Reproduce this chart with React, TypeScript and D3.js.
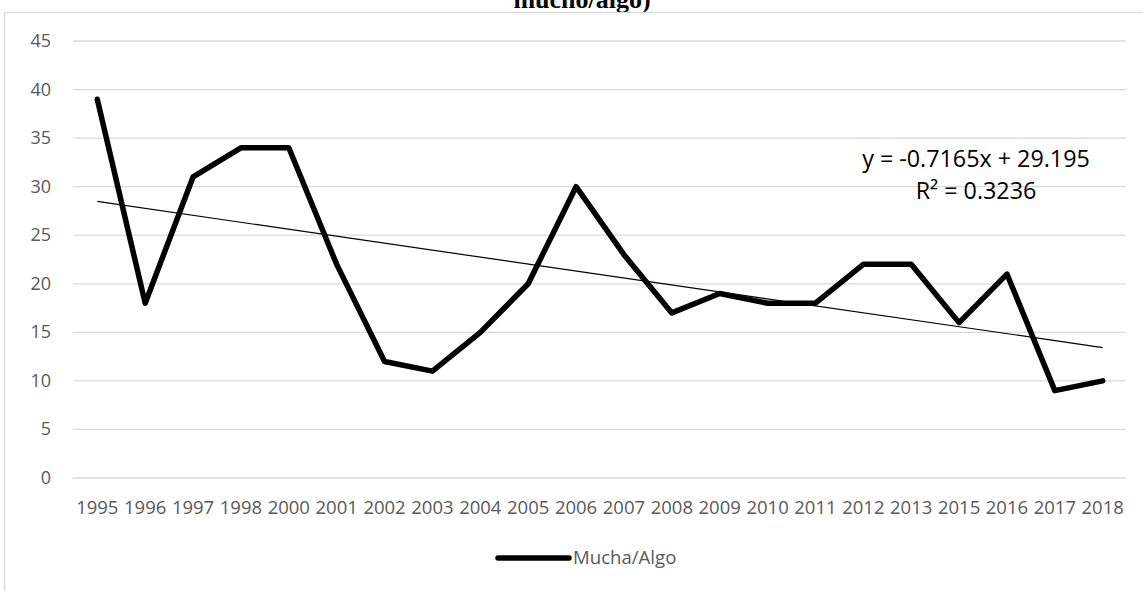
import React from "react";
import * as d3 from "d3";

const years = ["1995","1996","1997","1998","2000","2001","2002","2003","2004","2005","2006","2007","2008","2009","2010","2011","2012","2013","2015","2016","2017","2018"];
const values = [39, 18, 31, 34, 34, 22, 12, 11, 15, 20, 30, 23, 17, 19, 18, 18, 22, 22, 16, 21, 9, 10];
const yTicks = [0, 5, 10, 15, 20, 25, 30, 35, 40, 45];
const trendSlope = -0.7165;
const trendIntercept = 29.195;
const seriesName = "Mucha/Algo";
const titleTail = "mucho/algo)";
const eqText = "y = -0.7165x + 29.195";
const r2Text = "R² = 0.3236";

const W = 1143;
const H = 591;
const FONT = "'Open Sans', sans-serif";

export default function App() {
  const x = d3.scalePoint<string>().domain(years).range([97.3, 1102.7]);
  const y = d3.scaleLinear().domain([0, 45]).range([478, 41]);
  const line = d3
    .line<number>()
    .x((_, i) => x(years[i]) as number)
    .y((d) => y(d));
  const trendY = (k: number) => trendSlope * k + trendIntercept;
  const n = years.length;
  const trendPath = d3.line<[number, number]>()([
    [x(years[0]) as number, y(trendY(1))],
    [x(years[n - 1]) as number, y(trendY(n))],
  ]);

  return (
    <svg
      width={W}
      height={H}
      style={{ position: "fixed", left: 0, top: 0, display: "block", background: "#fff" }}
    >
      <text
        x={582}
        y={8}
        textAnchor="middle"
        fontFamily="'Liberation Serif', 'Times New Roman', serif"
        fontWeight="bold"
        fontSize={26}
        fill="#000"
      >
        {titleTail}
      </text>
      <rect x={4.5} y={12.5} width={1160} height={620} fill="none" stroke="#d9d9d9" strokeWidth={1.3} />
      {yTicks.map((t) => (
        <g key={t}>
          <line x1={73} x2={1126} y1={y(t)} y2={y(t)} stroke="#d9d9d9" strokeWidth={1.3} />
          <text x={51} y={y(t) + 6} textAnchor="end" fontFamily={FONT} fontSize={18} fill="#595959">
            {t}
          </text>
        </g>
      ))}
      {years.map((yr) => (
        <text key={yr} x={x(yr)} y={514} textAnchor="middle" fontFamily={FONT} fontSize={18.5} fill="#595959">
          {yr}
        </text>
      ))}
      <path d={line(values) || ""} fill="none" stroke="#000" strokeWidth={5.5} strokeLinejoin="round" strokeLinecap="round" />
      <path d={trendPath || ""} fill="none" stroke="#000" strokeWidth={1.2} />
      <text x={976} y={167} textAnchor="middle" fontFamily={FONT} fontSize={23.3} fill="#000">
        {eqText}
      </text>
      <text x={976} y={199} textAnchor="middle" fontFamily={FONT} fontSize={23.3} fill="#000">
        {r2Text}
      </text>
      <line x1={498} x2={569} y1={558} y2={558} stroke="#000" strokeWidth={5.5} strokeLinecap="round" />
      <text x={573} y={564} fontFamily={FONT} fontSize={18.6} fill="#595959">
        {seriesName}
      </text>
    </svg>
  );
}
